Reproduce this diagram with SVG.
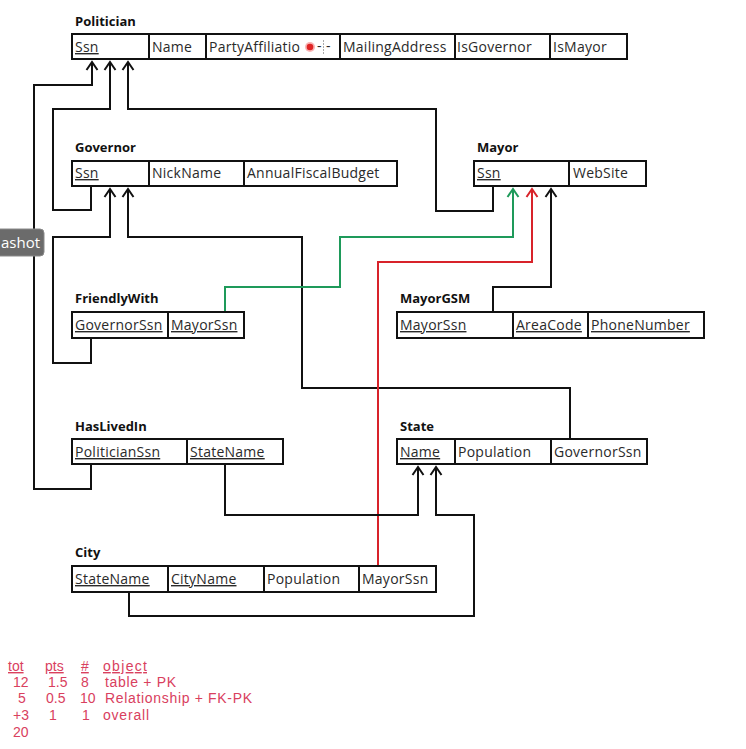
<svg xmlns="http://www.w3.org/2000/svg" width="746" height="749" viewBox="0 0 746 749">
  <style>
    .title { font-family: "Open Sans", "Liberation Sans", sans-serif; font-size: 13px; font-weight: bold; fill: #111; }
    .cell { fill: #fff; stroke: #111; stroke-width: 2; }
    .txt { font-family: "Open Sans", "Liberation Sans", sans-serif; font-size: 14px; letter-spacing: 0.25px; fill: #2a2a2a; }
    .pk { text-decoration: underline; }
    .conn { fill: none; stroke: #111; stroke-width: 2; }
    .conn.green { stroke: #1e9a5a; }
    .conn.red { stroke: #d8232a; }
    .score { font-family: "Liberation Sans", "Open Sans", sans-serif; font-size: 14px; fill: #d9405e; }
    .tip { font-family: "Open Sans", "Liberation Sans", sans-serif; font-size: 15px; fill: #fff; }
  </style>
  <defs>
    <marker id="ah" markerUnits="userSpaceOnUse" markerWidth="14" markerHeight="14" viewBox="-10 -7 12 14" refX="0" refY="0" orient="auto" overflow="visible">
      <path d="M-8,-5.5 L0,0 L-8,5.5" fill="none" stroke="#111" stroke-width="2"/>
    </marker>
    <marker id="ahGreen" markerUnits="userSpaceOnUse" markerWidth="14" markerHeight="14" viewBox="-10 -7 12 14" refX="0" refY="0" orient="auto" overflow="visible">
      <path d="M-8,-5.5 L0,0 L-8,5.5" fill="none" stroke="#1e9a5a" stroke-width="2"/>
    </marker>
    <marker id="ahRed" markerUnits="userSpaceOnUse" markerWidth="14" markerHeight="14" viewBox="-10 -7 12 14" refX="0" refY="0" orient="auto" overflow="visible">
      <path d="M-8,-5.5 L0,0 L-8,5.5" fill="none" stroke="#d8232a" stroke-width="2"/>
    </marker>
  </defs>

  <rect width="746" height="749" fill="#fff"/>

  <!-- foreign key connectors -->
  <g id="connectors">
    <path class="conn" d="M91,464 V489 H34 V85 H92 V62" marker-end="url(#ah)"/>
    <path class="conn" d="M91,186 V210 H53 V109 H110 V62" marker-end="url(#ah)"/>
    <path class="conn" d="M493,186 V211 H436 V109 H128 V62" marker-end="url(#ah)"/>
    <path class="conn" d="M91,338 V363 H53 V237 H110 V189" marker-end="url(#ah)"/>
    <path class="conn" d="M570,439 V388 H302 V237 H128 V189" marker-end="url(#ah)"/>
    <path class="conn green" d="M225,312 V287 H340 V237 H513 V189" marker-end="url(#ahGreen)"/>
    <path class="conn red" d="M378,566 V262 H532 V189" marker-end="url(#ahRed)"/>
    <path class="conn" d="M493,312 V287 H551 V189" marker-end="url(#ah)"/>
    <path class="conn" d="M225,464 V515 H418 V467" marker-end="url(#ah)"/>
    <path class="conn" d="M129,592 V616 H474 V515 H436 V467" marker-end="url(#ah)"/>
  </g>

  <g id="politician">
    <text class="title" x="75" y="25.5">Politician</text>
    <rect class="cell" x="72" y="34" width="77" height="25"/>
    <rect class="cell" x="149" y="34" width="57" height="25"/>
    <rect class="cell" x="206" y="34" width="134" height="25"/>
    <rect class="cell" x="340" y="34" width="115" height="25"/>
    <rect class="cell" x="455" y="34" width="95" height="25"/>
    <rect class="cell" x="550" y="34" width="77" height="25"/>
    <text class="txt pk" x="75" y="52">Ssn</text>
    <text class="txt" x="152" y="52">Name</text>
    <text class="txt" x="209" y="52">PartyAffiliatio</text>
    <circle cx="310" cy="47" r="5" fill="#f26a6a" opacity="0.5"/>
    <circle cx="310" cy="47" r="3.3" fill="#e02525"/>
    <text class="txt" x="317" y="51" font-size="12" fill="#555">-</text>
    <line x1="323.5" y1="40" x2="323.5" y2="54" stroke="#aaa" stroke-width="1" stroke-dasharray="2,1"/>
    <text class="txt" x="326" y="51" font-size="12" fill="#555">-</text>
    <text class="txt" x="343" y="52">MailingAddress</text>
    <text class="txt" x="457" y="52">IsGovernor</text>
    <text class="txt" x="553" y="52">IsMayor</text>
  </g>

  <g id="governor">
    <text class="title" x="75" y="152">Governor</text>
    <rect class="cell" x="72" y="161" width="77" height="25"/>
    <rect class="cell" x="149" y="161" width="95" height="25"/>
    <rect class="cell" x="244" y="161" width="153" height="25"/>
    <text class="txt pk" x="75" y="178">Ssn</text>
    <text class="txt" x="152" y="178">NickName</text>
    <text class="txt" x="247" y="178">AnnualFiscalBudget</text>
  </g>

  <g id="mayor">
    <text class="title" x="477" y="152">Mayor</text>
    <rect class="cell" x="474" y="161" width="95" height="25"/>
    <rect class="cell" x="569" y="161" width="77" height="25"/>
    <text class="txt pk" x="477" y="178">Ssn</text>
    <text class="txt" x="573" y="178">WebSite</text>
  </g>

  <g id="friendlywith">
    <text class="title" x="75" y="303">FriendlyWith</text>
    <rect class="cell" x="72" y="312" width="96" height="26"/>
    <rect class="cell" x="168" y="312" width="76" height="26"/>
    <text class="txt pk" x="75" y="330">GovernorSsn</text>
    <text class="txt pk" x="171" y="330">MayorSsn</text>
  </g>

  <g id="mayorgsm">
    <text class="title" x="400" y="303">MayorGSM</text>
    <rect class="cell" x="397" y="312" width="116" height="26"/>
    <rect class="cell" x="513" y="312" width="75" height="26"/>
    <rect class="cell" x="588" y="312" width="116" height="26"/>
    <text class="txt pk" x="400" y="330">MayorSsn</text>
    <text class="txt pk" x="516" y="330">AreaCode</text>
    <text class="txt pk" x="591" y="330">PhoneNumber</text>
  </g>

  <g id="haslivedin">
    <text class="title" x="75" y="431">HasLivedIn</text>
    <rect class="cell" x="72" y="439" width="115" height="25"/>
    <rect class="cell" x="187" y="439" width="96" height="25"/>
    <text class="txt pk" x="75" y="457">PoliticianSsn</text>
    <text class="txt pk" x="190" y="457">StateName</text>
  </g>

  <g id="state">
    <text class="title" x="400" y="431">State</text>
    <rect class="cell" x="397" y="439" width="58" height="25"/>
    <rect class="cell" x="455" y="439" width="96" height="25"/>
    <rect class="cell" x="551" y="439" width="96" height="25"/>
    <text class="txt pk" x="400" y="457">Name</text>
    <text class="txt" x="458" y="457">Population</text>
    <text class="txt" x="554" y="457">GovernorSsn</text>
  </g>

  <g id="city">
    <text class="title" x="75" y="557">City</text>
    <rect class="cell" x="72" y="566" width="96" height="26"/>
    <rect class="cell" x="168" y="566" width="96" height="26"/>
    <rect class="cell" x="264" y="566" width="95" height="26"/>
    <rect class="cell" x="359" y="566" width="77" height="26"/>
    <text class="txt pk" x="75" y="584">StateName</text>
    <text class="txt pk" x="171" y="584">CityName</text>
    <text class="txt" x="267" y="584">Population</text>
    <text class="txt" x="362" y="584">MayorSsn</text>
  </g>

  <!-- grading breakdown -->
  <g id="scoring">
    <text class="score pk" x="8" y="671">tot</text>
    <text class="score pk" x="45" y="671">pts</text>
    <text class="score pk" x="81" y="671">#</text>
    <text class="score pk" x="103" y="671" textLength="44">object</text>
    <text class="score" x="13" y="687">12</text>
    <text class="score" x="48" y="687">1.5</text>
    <text class="score" x="81" y="687">8</text>
    <text class="score" x="105" y="687" textLength="71">table + PK</text>
    <text class="score" x="18" y="703">5</text>
    <text class="score" x="46" y="703">0.5</text>
    <text class="score" x="80" y="703">10</text>
    <text class="score" x="105" y="703" textLength="147">Relationship + FK-PK</text>
    <text class="score" x="13" y="720">+3</text>
    <text class="score" x="49" y="720">1</text>
    <text class="score" x="82" y="720">1</text>
    <text class="score" x="103" y="720" textLength="46">overall</text>
    <text class="score" x="13" y="737">20</text>
  </g>

  <!-- tooltip overlay at the left edge -->
  <g id="tooltip">
    <rect x="-8" y="229" width="52" height="27" rx="4" fill="#6b6b6b" stroke="#8a8a8a" stroke-width="1"/>
    <text class="tip" x="1" y="248">ashot</text>
  </g>
</svg>
